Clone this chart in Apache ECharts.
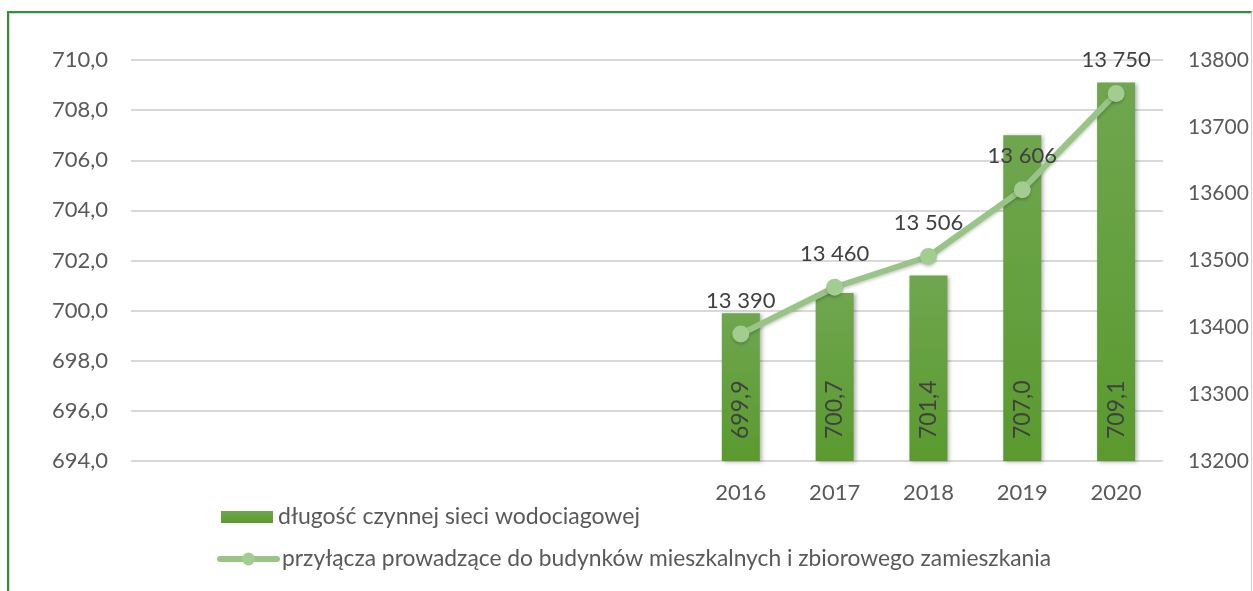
<!DOCTYPE html>
<html>
<head>
<meta charset="utf-8">
<script src="https://cdn.jsdelivr.net/npm/echarts@6/dist/echarts.min.js"></script>
<style>
  html, body { margin: 0; padding: 0; background: #ffffff; }
  #frame {
    position: absolute; left: 7px; top: 11px; width: 1242px; height: 600px;
    border-top: 2px solid #2b962b; border-left: 2px solid #2b962b; border-right: 1px solid #cfcfcf;
    box-shadow: inset 1px 1px 1px #d6d6d6;
  }
  #chart { position: absolute; left: 0; top: 0; width: 1253px; height: 591px; }
</style>
</head>
<body>
<div id="frame"></div>
<div id="chart"></div>
<script>
// ---- data ----
const categories = ['', '', '', '', '', '', '2016', '2017', '2018', '2019', '2020'];
const networkLength = [null, null, null, null, null, null, 699.9, 700.7, 701.4, 707.0, 709.1];
const connections = [null, null, null, null, null, null, 13390, 13460, 13506, 13606, 13750];
const leftTicks = { min: 694, max: 710, interval: 2 };
const rightTicks = { min: 13200, max: 13800, interval: 100 };
const seriesNames = [
  'długość czynnej sieci wodociagowej',
  'przyłącza prowadzące do budynków mieszkalnych i zbiorowego zamieszkania'
];

const FONT = 'Lato, "Open Sans", sans-serif';
const fmtComma = v => Number(v).toFixed(1).replace('.', ',');
const fmtSpace = v => String(v).replace(/\B(?=(\d{3})+(?!\d))/g, ' ');
const fmtPlain = v => String(v);

const chart = echarts.init(document.getElementById('chart'), null, { renderer: 'canvas' });
chart.setOption({
  backgroundColor: 'transparent',
  animation: false,
  textStyle: { fontFamily: FONT },
  grid: { left: 131, right: 90, top: 60, bottom: 130, containLabel: false },
  legend: [
    {
      data: [seriesNames[0]],
      orient: 'vertical', left: 221, top: 505, padding: 0,
      itemWidth: 52, itemHeight: 12, icon: 'rect', itemGap: 5,
      textStyle: { fontFamily: FONT, fontSize: 23, color: '#595959', lineHeight: 24 }
    },
    {
      data: [seriesNames[1]],
      orient: 'vertical', left: 217, top: 547, padding: 0,
      itemWidth: 57, itemHeight: 16,
      lineStyle: { width: 6, color: '#98c485', cap: 'round' },
      textStyle: { fontFamily: FONT, fontSize: 22.8, color: '#595959', lineHeight: 24 }
    }
  ],
  xAxis: {
    type: 'category',
    data: categories,
    axisLine: { show: false },
    axisTick: { show: false },
    axisLabel: { color: '#595959', fontSize: 22, fontFamily: FONT, margin: 21 }
  },
  yAxis: [
    {
      type: 'value', position: 'left',
      min: leftTicks.min, max: leftTicks.max, interval: leftTicks.interval,
      axisLine: { show: false }, axisTick: { show: false },
      splitLine: { lineStyle: { color: '#d9d9d9', width: 2 } },
      axisLabel: { color: '#595959', fontSize: 22, fontFamily: FONT, margin: 23, formatter: fmtComma }
    },
    {
      type: 'value', position: 'right',
      min: rightTicks.min, max: rightTicks.max, interval: rightTicks.interval,
      axisLine: { show: false }, axisTick: { show: false },
      splitLine: { show: false },
      axisLabel: { color: '#595959', fontSize: 21, fontFamily: FONT, margin: 25, formatter: fmtPlain }
    }
  ],
  series: [
    {
      name: seriesNames[0],
      type: 'bar',
      yAxisIndex: 0,
      data: networkLength,
      barWidth: 38,
      itemStyle: {
        color: new echarts.graphic.LinearGradient(0, 0, 0, 1, [
          { offset: 0, color: '#6fa64f' },
          { offset: 1, color: '#5a9a2e' }
        ]),
        shadowColor: 'rgba(0,0,0,0.3)', shadowBlur: 4, shadowOffsetX: 2, shadowOffsetY: 1
      },
      label: {
        show: true,
        position: 'insideBottom',
        distance: 22,
        rotate: 90,
        align: 'left',
        verticalAlign: 'middle',
        color: '#404040',
        fontSize: 23,
        fontFamily: FONT,
        formatter: p => fmtComma(p.value)
      }
    },
    {
      name: seriesNames[1],
      type: 'line',
      yAxisIndex: 1,
      data: connections,
      z: 5,
      symbol: 'circle',
      symbolSize: 17,
      lineStyle: { color: '#98c485', width: 6, shadowColor: 'rgba(0,0,0,0.2)', shadowBlur: 3, shadowOffsetY: 2 },
      itemStyle: { color: '#a3cc91', shadowColor: 'rgba(0,0,0,0.2)', shadowBlur: 3, shadowOffsetY: 2 },
      label: {
        show: true,
        position: 'top',
        distance: 14,
        color: '#404040',
        fontSize: 22,
        fontFamily: FONT,
        formatter: p => fmtSpace(p.value)
      }
    }
  ]
});
</script>
</body>
</html>
